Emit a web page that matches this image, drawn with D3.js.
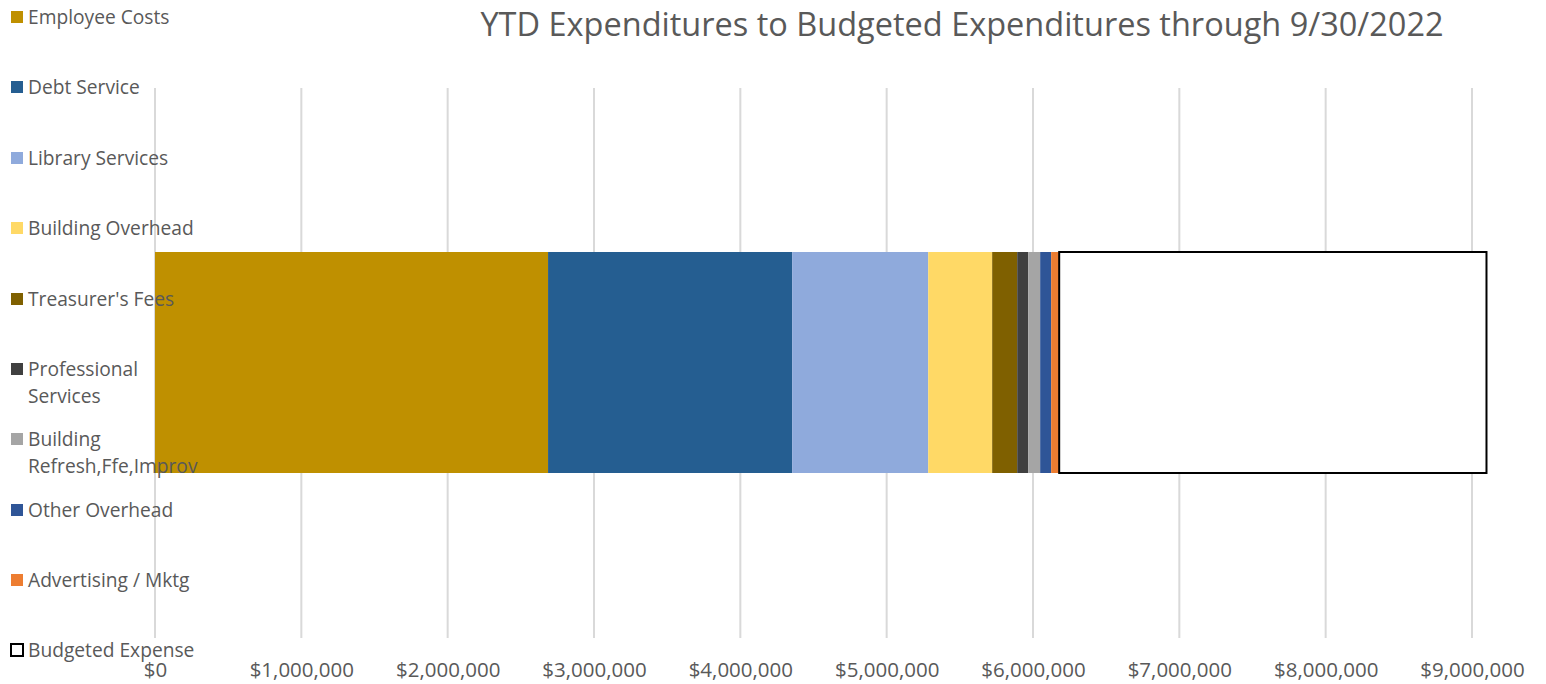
<!doctype html>
<html>
<head>
  <style>
    body { margin: 0; background: #fff; }
    text { font-family: "Open Sans", sans-serif; fill: #595959; }
  </style>
  <script src="https://cdn.jsdelivr.net/npm/d3@7"></script>
</head>
<body>
  <script>
  // categories and values
  var categories = ["Employee Costs", "Debt Service", "Library Services", "Building Overhead",
                    "Treasurer's Fees", "Professional Services", "Building Refresh,Ffe,Improv",
                    "Other Overhead", "Advertising / Mktg", "Budgeted Expense"];
  var values = [2686000, 1668000, 930000, 437000, 171000, 75000, 82000, 75000, 55000, 2920000];
  var colors = ["#bf9000", "#255e91", "#8faadc", "#ffd966", "#7f6000", "#404040",
                "#a5a5a5", "#2f5597", "#ed7d31", "#ffffff"];
  var tickValues = [0, 1000000, 2000000, 3000000, 4000000, 5000000, 6000000, 7000000, 8000000, 9000000];

  var svgW = 1546, svgH = 684;
  var svg = d3.select("body").append("svg")
      .attr("width", svgW)
      .attr("height", svgH);

  var x = d3.scaleLinear().domain([0, 9000000]).range([155, 1472]);

  // gridlines
  svg.selectAll("line.grid")
      .data(tickValues)
      .enter().append("line")
      .attr("class", "grid")
      .attr("x1", function(d) { return x(d); })
      .attr("x2", function(d) { return x(d); })
      .attr("y1", 88)
      .attr("y2", 638)
      .attr("stroke", "#d9d9d9")
      .attr("stroke-width", 2);

  // stacked segments
  var stack = [];
  var acc = 0;
  values.forEach(function(v, i) {
    stack.push({ name: categories[i], x0: acc, x1: acc + v, color: colors[i] });
    acc += v;
  });

  svg.selectAll("rect.seg")
      .data(stack)
      .enter().append("rect")
      .attr("class", "seg")
      .attr("x", function(d) { return x(d.x0); })
      .attr("width", function(d) { return x(d.x1) - x(d.x0); })
      .attr("y", 252)
      .attr("height", 221)
      .attr("fill", function(d) { return d.color; })
      .attr("stroke", function(d) { return d.name == "Budgeted Expense" ? "#000" : "none"; })
      .attr("stroke-width", 2);

  // x axis labels
  var axis = d3.axisBottom(x)
      .tickValues(tickValues)
      .tickSize(0)
      .tickFormat(function(d) { return "$" + d3.format(",")(d); });
  var ag = svg.append("g").attr("transform", "translate(0,677)").call(axis);
  ag.select(".domain").remove();
  ag.selectAll("text")
      .attr("font-family", "Open Sans, sans-serif")
      .attr("font-size", 20.5)
      .attr("fill", "#595959")
      .attr("dy", null)
      .attr("y", 0);

  // title
  svg.append("text")
      .attr("x", 962)
      .attr("y", 36)
      .attr("text-anchor", "middle")
      .attr("font-size", 32.5)
      .text("YTD Expenditures to Budgeted Expenditures through 9/30/2022");

  // legend on the left, drawn over the bar
  var legendLines = [["Employee Costs"], ["Debt Service"], ["Library Services"], ["Building Overhead"],
                     ["Treasurer's Fees"], ["Professional", "Services"], ["Building", "Refresh,Ffe,Improv"],
                     ["Other Overhead"], ["Advertising / Mktg"], ["Budgeted Expense"]];
  var legY = [17, 87, 158, 228, 299, 369, 439, 510, 580, 650];

  var leg = svg.selectAll("g.leg")
      .data(categories)
      .enter().append("g")
      .attr("class", "leg")
      .attr("transform", function(d, i) { return "translate(0," + legY[i] + ")"; });

  leg.append("rect")
      .attr("x", 11)
      .attr("y", -6)
      .attr("width", 12)
      .attr("height", 12)
      .attr("fill", function(d, i) { return colors[i]; })
      .attr("stroke", function(d) { return d == "Budgeted Expense" ? "#000" : "none"; })
      .attr("stroke-width", 2);

  leg.each(function(d, i) {
    var t = d3.select(this).append("text")
        .attr("x", 28)
        .attr("y", 7)
        .attr("font-size", 19.2);
    legendLines[i].forEach(function(line, j) {
      t.append("tspan").attr("x", 28).attr("dy", j == 0 ? 0 : 27).text(line);
    });
  });
  </script>
</body>
</html>
